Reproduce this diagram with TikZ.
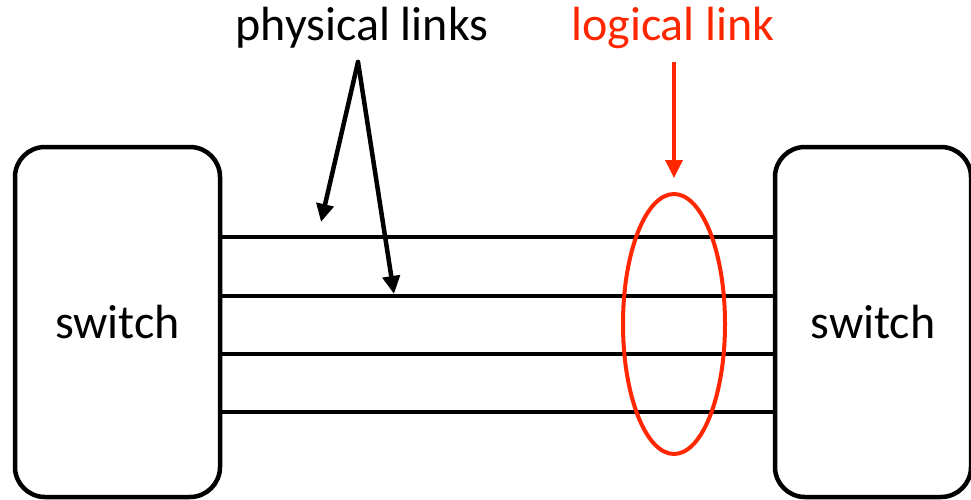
\documentclass[tikz,border=0pt]{standalone}
\usepackage{fontspec}
\setmainfont{Carlito}
\usetikzlibrary{arrows.meta,shapes.geometric}
\definecolor{lred}{RGB}{255,38,0}
\begin{document}
\begin{tikzpicture}[x=1pt,y=-1pt,
  sw/.style={draw,line width=4.5pt,rounded corners=30pt,fill=white,font=\fontsize{48}{56}\selectfont,inner sep=0pt},
  lnk/.style={line width=4.5pt},
  lbl/.style={font=\fontsize{48}{56}\selectfont,inner sep=0pt},
  parrow/.style={line width=4.5pt,-{Triangle[length=18pt,width=17pt]}},
  rarrow/.style={line width=3.5pt,lred,-{Triangle[length=18pt,width=17pt]}}]
\useasboundingbox (0,0) rectangle (971,500);
\node[sw,minimum width=205pt,minimum height=350pt] (L) at (117.5,322) {switch};
\node[sw,minimum width=196pt,minimum height=350pt] (R) at (873,322) {switch};
\foreach \y/\n in {237/a,296/b,354/c,412/d}{
  \coordinate (l\n) at (L.east |- 0,\y);
  \coordinate (r\n) at (R.west |- 0,\y);
  \draw[lnk] (l\n) -- (r\n);
}
\node[lbl,anchor=base] (phys) at (362,41) {physical links};
\node[lbl,anchor=base,text=lred] (logi) at (673,41) {logical link};
\coordinate (apex) at (358,62);
\coordinate (t1) at (321,222);
\coordinate (t2) at (394,294);
\draw[parrow,line cap=round] (apex) -- (t1);
\draw[parrow,line cap=round] (apex) -- (t2);
\node[draw=lred,line width=4pt,ellipse,minimum width=102pt,minimum height=260pt,inner sep=0pt] (lg) at (674,324) {};
\coordinate (rs) at (674,62);
\draw[rarrow] (rs) -- ([yshift=14pt]lg.north);
\end{tikzpicture}
\end{document}
